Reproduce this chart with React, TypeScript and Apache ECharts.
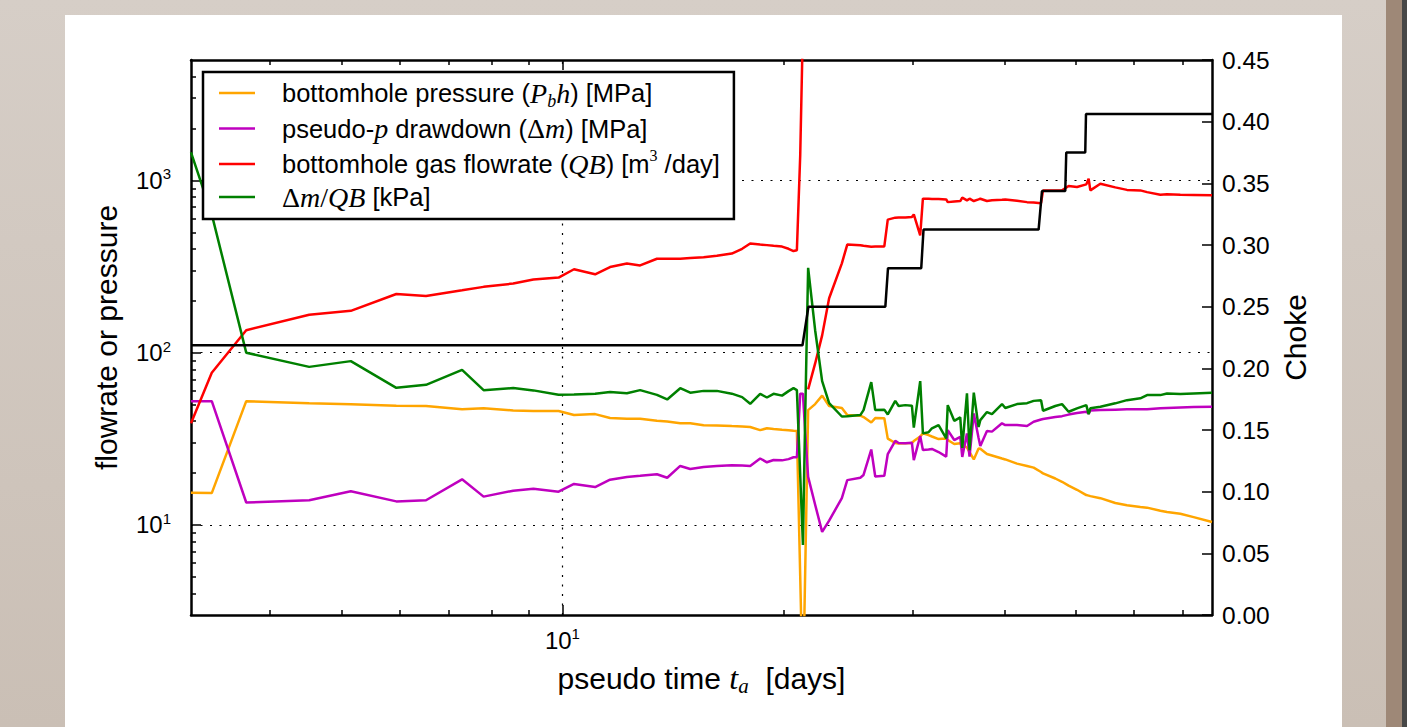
import React, { useEffect, useRef } from "react";
import * as echarts from "echarts";

// ---------------- data ----------------
const days = [3.12, 3.33, 3.71, 4.52, 5.15, 5.94, 6.52, 7.3, 7.81, 8.57, 9.13, 9.88, 10.37, 11.08, 11.61, 12.24, 12.76, 13.45, 13.89, 14.47, 14.93, 15.57, 16.23, 17.01, 17.57, 18.02, 18.59, 18.99, 19.39, 19.91, 20.32, 20.64, 20.86, 21.08, 21.26, 21.41, 21.61, 22.09, 22.58, 23.08, 24.02, 24.43, 25.45, 25.71, 26.34, 26.67, 27.44, 27.74, 28.4, 28.7, 29.31, 29.92, 30.1, 30.71, 30.97, 31.52, 31.86, 32.53, 33.32, 33.48, 34.17, 34.82, 35.04, 35.56, 35.85, 36.33, 36.88, 37.08, 37.86, 38.46, 39.69, 40.1, 41.6, 42.93, 43.83, 44.86, 45.14, 46.91, 47.91, 48.91, 50.21, 51.7, 52.08, 52.36, 54.03, 56.62, 58.73, 61.25, 62.55, 65.21, 66.59, 69.43, 72.39, 76.68];

const bottomholePressure = [15.4, 15.3, 52.3, 50.9, 50.1, 49.2, 49.0, 47.0, 47.5, 46.2, 45.8, 45.8,
  43.5, 44.0, 41.8, 41.4, 41.4, 40.2, 39.8, 38.9, 38.9, 37.9, 37.8, 37.5,
  37.3, 37.0, 35.5, 36.4, 36.0, 35.7, 35.5, 35.2, 35.1, 5.0, 1.0, 5.3,
  46.4, 50.3, 56.3, 49.0, 47.7, 43.4, 43.1, 42.3, 39.3, 41.7, 41.6, 31.7,
  29.9, 29.7, 29.8, 29.9, 30.7, 32.6, 34.0, 33.2, 32.6, 31.5, 31.7, 31.1,
  29.5, 29.8, 29.5, 28.1, 26.5, 24.0, 27.8, 27.7, 25.8, 25.3, 24.3, 24.0,
  22.7, 22.0, 21.5, 20.3, 19.9, 18.6, 17.8, 16.9, 16.0, 14.9, 14.8, 14.7,
  14.3, 13.4, 13.0, 12.7, 12.6, 12.1, 11.9, 11.6, 11.1, 10.4];

const pseudoDrawdown = [52.3, 52.3, 13.5, 13.9, 15.7, 13.7, 13.9, 18.4, 14.6, 15.8, 16.2, 15.6,
  17.3, 16.6, 18.3, 19.0, 19.3, 19.7, 18.8, 22.0, 21.1, 21.7, 22.0, 22.2,
  22.1, 22.0, 24.3, 23.1, 23.8, 23.7, 24.1, 24.7, 24.7, 57.8, 57.8, 34.8,
  19.0, 13.1, 9.11, 10.6, 14.3, 18.2, 18.8, 19.5, 27.4, 19.1, 19.3, 25.8,
  30.8, 29.9, 29.8, 30.0, 23.8, 32.8, 27.2, 27.4, 27.6, 26.5, 24.9, 35.5,
  31.1, 32.4, 24.8, 34.0, 24.9, 44.4, 32.0, 28.7, 35.1, 34.8, 38.9, 38.0,
  38.0, 37.5, 39.7, 40.9, 41.2, 42.3, 42.8, 43.7, 44.6, 45.4, 44.3, 46.1,
  46.4, 46.7, 46.9, 46.9, 47.0, 47.5, 47.7, 48.1, 48.3, 48.5];

const gasFlowrate: (number | null)[] = [38.9, 76.4, 135, 166, 175, 219, 213, 230, 241, 252, 266, 273,
  305, 285, 314, 329, 321, 351, 351, 351, 355, 358, 365, 376,
  401, 430, 424, 421, 417, 413, 401, 389, 393, 1400, 8000, null,
  61.2, 86.6, 126, 207, 330, 424, 420, 417, 412, 413, 414, 592,
  608, 610, 610, 613, 635, 480, 783, 783, 780, 779, 776, 748,
  755, 759, 794, 766, 783, 759, 776, 783, 759, 766, 771, 774,
  761, 748, 745, 738, 875, 875, 875, 929, 915, 948, 1023, 875,
  957, 911, 881, 875, 855, 826, 832, 826, 824, 819];

const drawdownPerRate = [1453, 635, 100, 82.7, 89.3, 62.5, 65.1, 79.5, 60.6, 62.3, 60.4, 56.9,
  57.2, 57.7, 59.1, 58.2, 60.6, 56.9, 53.5, 62.2, 58.6, 60.0, 60.0, 57.8,
  55.2, 50.5, 57.7, 54.9, 57.7, 56.3, 59.8, 62.2, 60.6, 19.4, 7.66, 42.1,
  311, 135, 68.4, 50.9, 42.6, 42.8, 43.4, 46.4, 67.5, 46.4, 46.7, 43.8,
  52.5, 49.0, 49.6, 49.2, 36.7, 68.4, 34.0, 34.5, 36.4, 38.0, 31.8, 49.6,
  40.2, 42.1, 28.0, 58.0, 27.2, 58.6, 37.0, 40.6, 45.2, 44.0, 50.3, 47.7,
  50.3, 50.9, 52.5, 53.0, 46.0, 49.0, 50.3, 45.4, 47.5, 49.6, 44.0, 47.5,
  48.5, 50.8, 53.0, 54.3, 56.7, 56.7, 58.0, 57.5, 58.0, 58.5];

const chokeDays = [3.12, 21.23, 21.63, 27.53, 27.76, 30.81, 31.03, 44.52, 44.99, 48.4, 48.55, 51.53, 51.65, 76.68];
const chokeValues = [0.21875, 0.21875, 0.25, 0.25, 0.28125, 0.28125, 0.3125, 0.3125, 0.34375, 0.34375, 0.375, 0.375, 0.40625, 0.40625];

const xMajorTicks = [10];
const xMinorTicks = [4, 5, 6, 7, 8, 9, 20, 30, 40, 50, 60, 70];
const yMajorTicks = [10, 100, 1000];
const yMinorTicks = [4, 5, 6, 7, 8, 9, 20, 30, 40, 50, 60, 70, 80, 90, 200, 300, 400, 500, 600, 700, 800, 900, 2000, 3000, 4000];
const xGridValues = [10];
const yGridValues = [10, 100, 1000];

const seriesNames = [
  "bottomhole pressure (P_b h) [MPa]",
  "pseudo-p drawdown (Δm) [MPa]",
  "bottomhole gas flowrate (QB) [m3 /day]",
  "Δm/QB [kPa]",
];
const legendRichText: Record<string, string> = {
  [seriesNames[0]]: "{g| }{t|bottomhole pressure (}{m|P}{sub|b}{m|h}{t|) [MPa]}",
  [seriesNames[1]]: "{g| }{t|pseudo-}{m|p}{t| drawdown (}{d|Δ}{m|m}{t|) [MPa]}",
  [seriesNames[2]]: "{g| }{t|bottomhole gas flowrate (}{m|QB}{t|) [m}{sup|3}{t| /day]}",
  [seriesNames[3]]: "{g| }{d|Δ}{m|m}{d|/}{m|QB}{t| [kPa]}",
};
const seriesColors = ["#FFA500", "#BF00BF", "#FF0000", "#008000"];

// ---------------- styling ----------------
const SANS = "'Liberation Sans', Arial, Helvetica, sans-serif";
const SERIF = "'Liberation Serif', 'DejaVu Serif', serif";
const BLACK = "#000";

const tickRich = {
  b: { fontSize: 24, fontFamily: SANS, color: BLACK, lineHeight: 28 },
  s: { fontSize: 15, fontFamily: SANS, color: BLACK, lineHeight: 10, verticalAlign: "top" },
};
const powerLabel = (v: number) => `{b|10}{s|${Math.round(Math.log10(v))}}`;

const frameLine = { show: true, onZero: false, lineStyle: { color: BLACK, width: 2.5 } };
const tickLine = { color: BLACK, width: 1.5 };
const dotted = { color: BLACK, width: 1.2, type: [2, 7.5] as number[] };

const logX = { type: "log", logBase: 10, min: 3.12, max: 76.68, gridIndex: 0 };
const logY = { type: "log", logBase: 10, min: 3, max: 5000, gridIndex: 0 };

function buildOption() {
  const pair = (vals: (number | null)[]) => days.map((d, i) => [d, vals[i] == null ? "-" : vals[i]]);
  const valueSets = [bottomholePressure, pseudoDrawdown, gasFlowrate, drawdownPerRate];
  const mainSeries: any[] = valueSets.map((vals, k) => ({
    name: seriesNames[k],
    type: "line",
    xAxisIndex: 0,
    yAxisIndex: 0,
    data: pair(vals),
    symbol: "none",
    showSymbol: false,
    connectNulls: false,
    clip: true,
    lineStyle: { color: seriesColors[k], width: 2.5 },
    itemStyle: { color: seriesColors[k] },
    z: 2 + k,
  }));
  mainSeries[0].markLine = {
    silent: true,
    symbol: "none",
    label: { show: false },
    lineStyle: dotted,
    z: 1,
    data: [...yGridValues.map((v) => ({ yAxis: v })), ...xGridValues.map((v) => ({ xAxis: v }))],
  };

  return {
    animation: false,
    backgroundColor: "transparent",
    grid: { left: 191, right: 215, top: 60, bottom: 112, containLabel: false, outerBoundsMode: "none" },
    legend: {
      show: true,
      data: seriesNames,
      orient: "vertical",
      left: 203,
      top: 72,
      backgroundColor: "#fff",
      borderColor: BLACK,
      borderWidth: 2.5,
      borderRadius: 0,
      padding: [7, 14, 8, 16],
      itemGap: 5,
      itemWidth: 36,
      itemHeight: 2.5,
      icon: "rect",
      selectedMode: false,
      z: 10,
      formatter: (name: string) => legendRichText[name] || name,
      textStyle: {
        fontSize: 25.5,
        fontFamily: SANS,
        color: BLACK,
        rich: {
          g: { width: 22, fontSize: 25.5, lineHeight: 33 },
          t: { fontSize: 25.5, fontFamily: SANS, color: BLACK, lineHeight: 33 },
          m: { fontSize: 28, fontFamily: SERIF, fontStyle: "italic", color: BLACK, lineHeight: 33 },
          d: { fontSize: 28, fontFamily: SERIF, color: BLACK, lineHeight: 33 },
          sub: { fontSize: 18, fontFamily: SERIF, fontStyle: "italic", color: BLACK, lineHeight: 18, verticalAlign: "bottom" },
          sup: { fontSize: 16, fontFamily: SERIF, color: BLACK, lineHeight: 26, verticalAlign: "top" },
        },
      },
    },
    xAxis: [
      {
        ...logX,
        position: "bottom",
        axisLine: frameLine,
        axisTick: { show: true, inside: true, length: 10, lineStyle: tickLine, customValues: xMajorTicks },
        axisLabel: { show: true, customValues: xMajorTicks, formatter: powerLabel, margin: 11, rich: tickRich },
        splitLine: { show: false },
        name: "{t|pseudo time }{m|t}{sub|a}{t|  [days]}",
        nameLocation: "middle",
        nameGap: 45,
        nameTextStyle: {
          fontSize: 30,
          fontFamily: SANS,
          color: BLACK,
          rich: {
            t: { fontSize: 30, fontFamily: SANS, color: BLACK, lineHeight: 36 },
            m: { fontSize: 32, fontFamily: SERIF, fontStyle: "italic", color: BLACK, lineHeight: 36 },
            sub: { fontSize: 21, fontFamily: SERIF, fontStyle: "italic", color: BLACK, lineHeight: 18, verticalAlign: "bottom" },
          },
        },
      },
      {
        ...logX,
        position: "bottom",
        axisLine: { show: false },
        axisTick: { show: true, inside: true, length: 5, lineStyle: tickLine, customValues: xMinorTicks },
        axisLabel: { show: false },
        splitLine: { show: false },
      },
      {
        ...logX,
        position: "top",
        axisLine: frameLine,
        axisTick: { show: true, inside: true, length: 10, lineStyle: tickLine, customValues: xMajorTicks },
        axisLabel: { show: false },
        splitLine: { show: false },
      },
      {
        ...logX,
        position: "top",
        axisLine: { show: false },
        axisTick: { show: true, inside: true, length: 5, lineStyle: tickLine, customValues: xMinorTicks },
        axisLabel: { show: false },
        splitLine: { show: false },
      },
    ],
    yAxis: [
      {
        ...logY,
        position: "left",
        axisLine: frameLine,
        axisTick: { show: true, inside: true, length: 10, lineStyle: tickLine, customValues: yMajorTicks },
        axisLabel: { show: true, customValues: yMajorTicks, formatter: powerLabel, margin: 20, rich: tickRich },
        splitLine: { show: false },
        name: "flowrate or pressure",
        nameLocation: "middle",
        nameRotate: 90,
        nameGap: 70,
        nameTextStyle: { fontSize: 30, fontFamily: SANS, color: BLACK },
      },
      {
        ...logY,
        position: "left",
        axisLine: { show: false },
        axisTick: { show: true, inside: true, length: 5, lineStyle: tickLine, customValues: yMinorTicks },
        axisLabel: { show: false },
        splitLine: { show: false },
      },
      {
        type: "value",
        position: "right",
        gridIndex: 0,
        min: 0,
        max: 0.45,
        interval: 0.05,
        axisLine: frameLine,
        axisTick: { show: true, inside: true, length: 10, lineStyle: tickLine },
        axisLabel: {
          show: true,
          margin: 10,
          fontSize: 24.5,
          fontFamily: SANS,
          color: BLACK,
          formatter: (v: number) => v.toFixed(2),
        },
        splitLine: { show: false },
        name: "Choke",
        nameLocation: "middle",
        nameRotate: 90,
        nameGap: 66,
        nameTextStyle: { fontSize: 30, fontFamily: SANS, color: BLACK },
      },
    ],
    series: [
      ...mainSeries,
      {
        name: "Choke",
        type: "line",
        xAxisIndex: 0,
        yAxisIndex: 2,
        data: chokeDays.map((d, i) => [d, chokeValues[i]]),
        symbol: "none",
        showSymbol: false,
        clip: true,
        lineStyle: { color: BLACK, width: 2.5 },
        itemStyle: { color: BLACK },
        z: 8,
      },
    ],
  };
}

export default function App() {
  const ref = useRef<HTMLDivElement>(null);
  useEffect(() => {
    document.body.style.margin = "0";
    if (!ref.current) return;
    const chart = echarts.init(ref.current, undefined, { renderer: "svg", width: 1427, height: 727 });
    chart.setOption(buildOption() as any);
    return () => chart.dispose();
  }, []);
  return (
    <div
      style={{
        position: "fixed",
        left: 0,
        top: 0,
        width: 1427,
        height: 727,
        overflow: "hidden",
        background: "linear-gradient(#d6cec7, #cabfb5)",
      }}
    >
      <div style={{ position: "absolute", left: 65, top: 15, width: 1277, height: 712, background: "#fff" }} />
      <div style={{ position: "absolute", left: 1386, top: 0, width: 16, height: 727, background: "#9e8877" }} />
      <div style={{ position: "absolute", left: 1402, top: 0, width: 5, height: 727, background: "#474747" }} />
      <div style={{ position: "absolute", left: 1407, top: 0, width: 20, height: 727, background: "#ffffff" }} />
      <div ref={ref} style={{ position: "absolute", left: 0, top: 0, width: 1427, height: 727 }} />
    </div>
  );
}
